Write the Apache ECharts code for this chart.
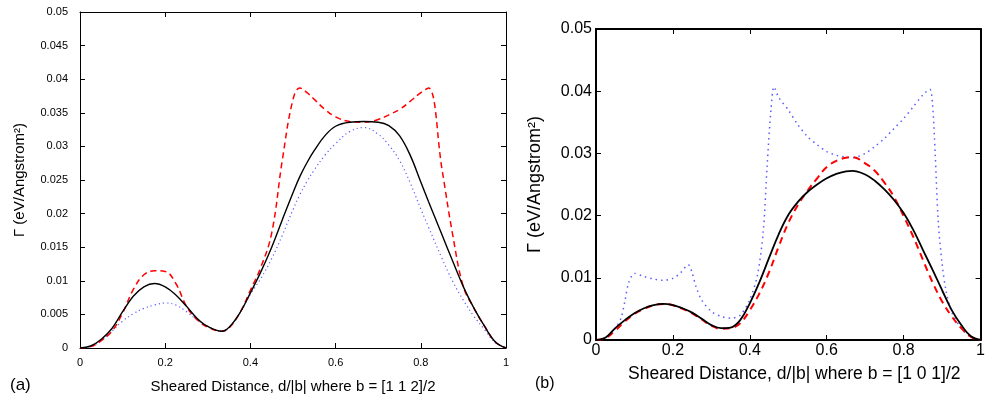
<!DOCTYPE html>
<html>
<head>
<meta charset="utf-8">
<script src="https://cdn.jsdelivr.net/npm/echarts@6/dist/echarts.min.js"></script>
<style>
  html, body { margin: 0; padding: 0; background: #fff; }
  #main { width: 988px; height: 400px; }
</style>
</head>
<body>
<div id="main"></div>
<script>
// panel (a): b = [1 1 2]/2
var xsA = [0, 0.025, 0.05, 0.075, 0.1, 0.125, 0.15, 0.175, 0.2, 0.225, 0.25, 0.275, 0.3, 0.333, 0.35, 0.375,
  0.4, 0.425, 0.45, 0.475, 0.5, 0.516, 0.533, 0.55, 0.575, 0.6, 0.633, 0.667, 0.7, 0.725, 0.75, 0.775,
  0.8, 0.818, 0.85, 0.875, 0.9, 0.925, 0.95, 0.975, 1];
var blackA = [0, 0.0003, 0.0013, 0.0029, 0.0054, 0.0077, 0.0091, 0.0096, 0.0091, 0.0079, 0.0062, 0.0044, 0.0032, 0.0025, 0.0031, 0.0052,
  0.0082, 0.0114, 0.0150, 0.0191, 0.0231, 0.0255, 0.0276, 0.0294, 0.0316, 0.0330, 0.0336, 0.0337, 0.0336, 0.0331, 0.0316, 0.0287,
  0.0247, 0.0218, 0.0168, 0.0129, 0.0091, 0.0059, 0.0032, 0.0009, 0];
var redA = [0, 0.0002, 0.0011, 0.0025, 0.0052, 0.0087, 0.0109, 0.0115, 0.0114, 0.0096, 0.0062, 0.0042, 0.0031, 0.0025, 0.0030, 0.0052,
  0.0086, 0.0121, 0.0171, 0.0280, 0.0370, 0.0387, 0.0380, 0.0370, 0.0355, 0.0344, 0.0337, 0.0336, 0.0340, 0.0347, 0.0355, 0.0367,
  0.0380, 0.0387, 0.0265, 0.0168, 0.0091, 0.0059, 0.0032, 0.0009, 0];
var blueA = [0, 0.0002, 0.0011, 0.0025, 0.0040, 0.0051, 0.0059, 0.0064, 0.0067, 0.0064, 0.0054, 0.0042, 0.0032, 0.0025, 0.0030, 0.0052,
  0.0080, 0.0104, 0.0133, 0.0168, 0.0206, 0.0228, 0.0248, 0.0265, 0.0287, 0.0304, 0.0322, 0.0328, 0.0318, 0.0302, 0.0279, 0.0246,
  0.0207, 0.0180, 0.0133, 0.0099, 0.0071, 0.0047, 0.0027, 0.0008, 0];

// panel (b): b = [1 0 1]/2
var xsB = [0, 0.025, 0.05, 0.075, 0.1, 0.125, 0.15, 0.175, 0.2, 0.225, 0.25, 0.275, 0.3, 0.325, 0.35, 0.375,
  0.4, 0.425, 0.45, 0.475, 0.5, 0.525, 0.55, 0.575, 0.6, 0.625, 0.65, 0.667, 0.7, 0.725, 0.75, 0.775,
  0.8, 0.825, 0.85, 0.875, 0.9, 0.925, 0.95, 0.975, 1];
var blackB = [0, 0.0004, 0.0019, 0.0032, 0.0043, 0.0051, 0.0056, 0.0058, 0.0056, 0.0051, 0.0044, 0.0034, 0.0024, 0.0019, 0.0020, 0.0032,
  0.0059, 0.0093, 0.0132, 0.0170, 0.0201, 0.0222, 0.0238, 0.0250, 0.0260, 0.0267, 0.0271, 0.0272, 0.0266, 0.0256, 0.0242, 0.0225,
  0.0204, 0.0177, 0.0145, 0.0113, 0.0080, 0.0048, 0.0024, 0.0006, 0];
var redB = [0, 0.0003, 0.0015, 0.0030, 0.0042, 0.0050, 0.0056, 0.0058, 0.0056, 0.0050, 0.0043, 0.0033, 0.0023, 0.0018, 0.0019, 0.0027,
  0.0048, 0.0075, 0.0109, 0.0150, 0.0188, 0.0217, 0.0240, 0.0260, 0.0278, 0.0288, 0.0293, 0.0294, 0.0284, 0.0272, 0.0253, 0.0230,
  0.0199, 0.0166, 0.0129, 0.0093, 0.0062, 0.0038, 0.0019, 0.0005, 0];
var xsBlueB = [0, 0.025, 0.05, 0.065, 0.075, 0.085, 0.1, 0.125, 0.15, 0.175, 0.2, 0.22, 0.24, 0.25, 0.26, 0.275, 0.3, 0.325, 0.35, 0.375,
  0.4, 0.42, 0.435, 0.445, 0.455, 0.463, 0.475, 0.5, 0.525, 0.55, 0.575, 0.6, 0.625, 0.65, 0.667, 0.7, 0.725, 0.75, 0.775,
  0.8, 0.825, 0.85, 0.868, 0.875, 0.882, 0.89, 0.9, 0.91, 0.925, 0.95, 0.975, 1];
var blueB = [0, 0.0004, 0.0019, 0.0035, 0.0062, 0.0092, 0.0107, 0.0102, 0.0098, 0.0096, 0.0099, 0.0108, 0.0121, 0.0108, 0.0086, 0.0064, 0.0046, 0.0038, 0.0035, 0.0040,
  0.0065, 0.0105, 0.0175, 0.0280, 0.0370, 0.0407, 0.0390, 0.0370, 0.0346, 0.0327, 0.0314, 0.0303, 0.0297, 0.0294, 0.0293, 0.0300, 0.0311, 0.0324, 0.0340,
  0.0356, 0.0375, 0.0394, 0.0403, 0.0380, 0.0300, 0.0190, 0.0123, 0.0080, 0.0045, 0.0019, 0.0005, 0];

var nameA = 'Sheared Distance, d/|b| where b = [1 1 2]/2';
var nameB = 'Sheared Distance, d/|b| where b = [1 0 1]/2';
var yName = 'Γ (eV/Angstrom²)';

function pairs(xs, ys) {
  return xs.map(function (x, i) { return [x, ys[i]]; });
}
function fmt(v) { return String(+v.toFixed(3)); }

var FONT = 'Liberation Sans';

// one axis helper (labels only on bottom / left)
function axis(opts) {
  var a = {
    type: 'value',
    gridIndex: opts.grid,
    position: opts.pos,
    min: opts.min, max: opts.max, interval: opts.interval,
    axisLine: { show: true, onZero: false, lineStyle: { color: '#000', width: opts.lw } },
    axisTick: { show: true, inside: true, length: 5, lineStyle: { color: '#000', width: 1 } },
    axisLabel: { show: !!opts.label, color: '#000', fontFamily: FONT, fontSize: opts.fs, margin: opts.margin, formatter: fmt },
    splitLine: { show: false }
  };
  if (opts.name) {
    a.name = opts.name;
    a.nameLocation = 'middle';
    a.nameGap = opts.nameGap;
    a.nameTextStyle = { color: '#000', fontFamily: FONT, fontSize: opts.nfs, padding: opts.pad || 0 };
  }
  return a;
}

var chart = echarts.init(document.getElementById('main'));
chart.setOption({
  animation: false,
  backgroundColor: '#fff',
  grid: [
    { left: 80, top: 12, width: 426, height: 336 },
    { left: 596, top: 29, width: 391, height: 311 }
  ],
  xAxis: [
    axis({ grid: 0, pos: 'bottom', min: 0, max: 1, interval: 0.2, lw: 1, label: true, fs: 11, margin: 9, name: nameA, nameGap: 31, nfs: 15 }),
    axis({ grid: 0, pos: 'top', min: 0, max: 1, interval: 0.2, lw: 1 }),
    axis({ grid: 1, pos: 'bottom', min: 0, max: 1, interval: 0.2, lw: 2, label: true, fs: 16, margin: 3, name: nameB, nameGap: 25, nfs: 17.5, pad: [0, 0, 0, 12] }),
    axis({ grid: 1, pos: 'top', min: 0, max: 1, interval: 0.2, lw: 2 })
  ],
  yAxis: [
    axis({ grid: 0, pos: 'left', min: 0, max: 0.05, interval: 0.005, lw: 1, label: true, fs: 11, margin: 12, name: yName, nameGap: 53, nfs: 15 }),
    axis({ grid: 0, pos: 'right', min: 0, max: 0.05, interval: 0.005, lw: 1 }),
    axis({ grid: 1, pos: 'left', min: 0, max: 0.05, interval: 0.01, lw: 2, label: true, fs: 16, margin: 4, name: yName, nameGap: 52, nfs: 18 }),
    axis({ grid: 1, pos: 'right', min: 0, max: 0.05, interval: 0.01, lw: 2 })
  ],
  graphic: [
    { type: 'text', left: 10, top: 377, style: { text: '(a)', font: '17px ' + FONT, fill: '#000' } },
    { type: 'text', left: 535, top: 376, style: { text: '(b)', font: '16px ' + FONT, fill: '#000' } }
  ],
  series: [
    { type: 'line', xAxisIndex: 0, yAxisIndex: 0, data: pairs(xsA, blueA), showSymbol: false, smooth: 0.4,
      lineStyle: { color: '#5a5aff', width: 1.2, type: [1.2, 3] } },
    { type: 'line', xAxisIndex: 0, yAxisIndex: 0, data: pairs(xsA, redA), showSymbol: false, smooth: 0.4,
      lineStyle: { color: '#ff0000', width: 1.5, type: [6, 4] } },
    { type: 'line', xAxisIndex: 0, yAxisIndex: 0, data: pairs(xsA, blackA), showSymbol: false, smooth: 0.4,
      lineStyle: { color: '#000', width: 1.4 } },
    { type: 'line', xAxisIndex: 2, yAxisIndex: 2, data: pairs(xsBlueB, blueB), showSymbol: false, smooth: 0.3,
      lineStyle: { color: '#5a5aff', width: 1.5, type: [1.5, 4] } },
    { type: 'line', xAxisIndex: 2, yAxisIndex: 2, data: pairs(xsB, redB), showSymbol: false, smooth: 0.4,
      lineStyle: { color: '#ff0000', width: 2, type: [7, 5] } },
    { type: 'line', xAxisIndex: 2, yAxisIndex: 2, data: pairs(xsB, blackB), showSymbol: false, smooth: 0.4,
      lineStyle: { color: '#000', width: 1.8 } }
  ]
});
</script>
</body>
</html>
